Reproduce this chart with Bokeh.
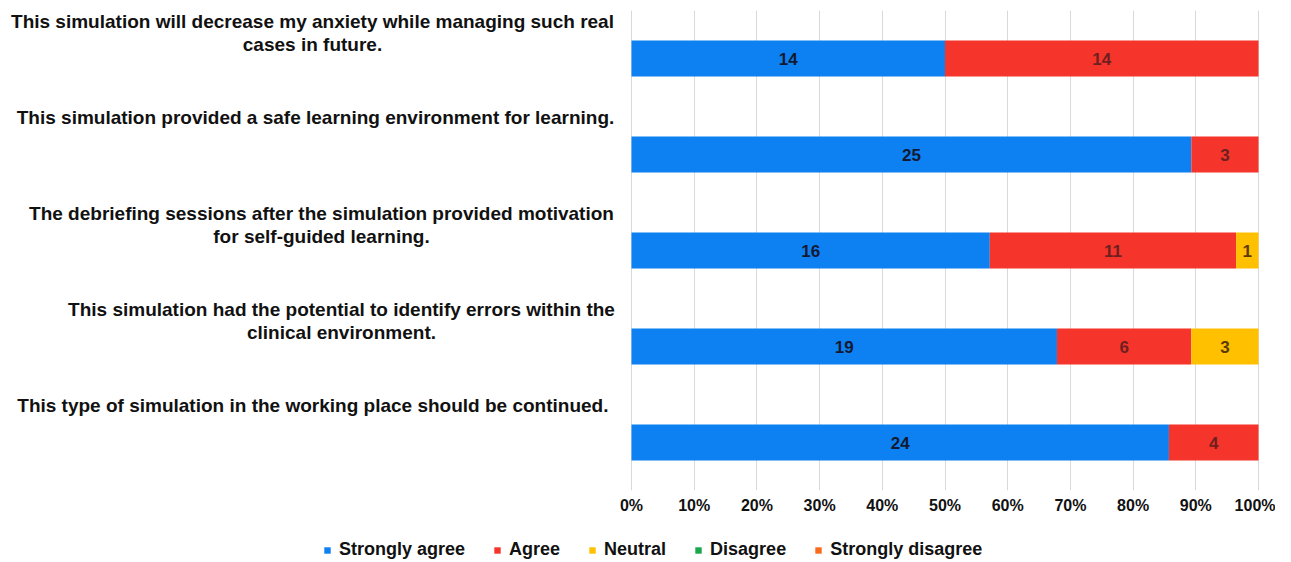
from bokeh.plotting import figure
from bokeh.layouts import column
from bokeh.models import Range1d, ColumnDataSource, Legend, LegendItem, FixedTicker
from bokeh.core.properties import value
from bokeh.embed import file_html
from bokeh.resources import INLINE

# ---------------- data ----------------
questions = [
    "This simulation will decrease my anxiety while managing such real\ncases in future.",
    "This simulation provided a safe learning environment for learning.",
    "The debriefing sessions after the simulation provided motivation\nfor self-guided learning.",
    "This simulation had the potential to identify errors within the\nclinical environment.",
    "This type of simulation in the working place  should be continued.",
]
responses = ["Strongly agree", "Agree", "Neutral", "Disagree", "Strongly disagree"]
strongly_agree = [14, 25, 16, 19, 24]
agree = [14, 3, 11, 6, 4]
neutral = [0, 0, 1, 3, 0]
disagree = [0, 0, 0, 0, 0]
strongly_disagree = [0, 0, 0, 0, 0]
tick_values = [0, 10, 20, 30, 40, 50, 60, 70, 80, 90, 100]
tick_labels = ["0%", "10%", "20%", "30%", "40%", "50%", "60%", "70%", "80%", "90%", "100%"]

# ---------------- style / layout ----------------
bar_colors = ["#0d80f2", "#f5352b", "#ffc000", "#1aa64a", "#f96a1b"]
num_colors = ["#121a33", "#6e1f1f", "#5c3b00", "#0f3a1a", "#5c2a0a"]
FONT = "Liberation Sans"

FIG_W = 1275
PAGE_FRAME_LEFT = 0
PAGE_FRAME_RIGHT = 1270
PX_ZERO = 631
PX_HUNDRED = 1258
scale = (PX_HUNDRED - PX_ZERO) / 100.0


def px_to_x(px):
    return (px - PX_ZERO) / scale


label_center_px = [312, 315, 321, 341, 315]

series = [strongly_agree, agree, neutral, disagree, strongly_disagree]
n = len(questions)
rows = [i + 0.5 for i in range(n)]
totals = [sum(s[i] for s in series) for i in range(n)]
keys = ["s%d" % k for k in range(len(series))]
data = {"y": rows}
for k, s in zip(keys, series):
    data[k] = [100.0 * s[i] / totals[i] for i in range(n)]
source = ColumnDataSource(data)

p = figure(
    width=FIG_W,
    height=520,
    x_range=Range1d(px_to_x(PAGE_FRAME_LEFT), px_to_x(PAGE_FRAME_RIGHT)),
    y_range=Range1d(start=n, end=0),
    y_axis_location=None,
    output_backend="svg",
    toolbar_location=None,
    min_border_left=0,
    min_border_right=FIG_W - PAGE_FRAME_RIGHT,
    min_border_top=10,
    min_border_bottom=30,
)
p.outline_line_color = None
p.background_fill_color = "white"
p.border_fill_color = "white"

p.hbar_stack(keys, y="y", height=0.375, color=bar_colors,
             line_color=None, source=source)

# value labels
lx, ly, lt, lc = [], [], [], []
for i in range(n):
    left = 0.0
    for k, s in enumerate(series):
        pct = data[keys[k]][i]
        if s[i] > 0:
            lx.append(left + pct / 2.0)
            ly.append(rows[i])
            lt.append(str(s[i]))
            lc.append(num_colors[k])
        left += pct
p.text(x=lx, y=ly, text=lt, text_color=lc, text_align="center",
       text_baseline="middle", text_font=value(FONT), text_font_style="bold",
       text_font_size="17px")

# category labels (left of the bars)
p.text(x=[px_to_x(c) for c in label_center_px], y=[r - 0.5 for r in rows],
       text=questions, text_align="center", text_baseline="top",
       text_font=value(FONT), text_font_style="bold", text_font_size="19px",
       text_line_height=1.1, text_color="#111111")

# axis
ax = p.xaxis[0]
ax.ticker = FixedTicker(ticks=tick_values)
ax.major_label_overrides = {v: t for v, t in zip(tick_values, tick_labels)}
ax.axis_line_color = None
ax.major_tick_line_color = None
ax.minor_tick_line_color = None
ax.major_tick_out = 0
ax.major_tick_in = 0
ax.major_label_standoff = 6
ax.major_label_text_font = FONT
ax.major_label_text_font_style = "bold"
ax.major_label_text_font_size = "16px"
ax.major_label_text_color = "#111111"

p.xgrid.ticker = FixedTicker(ticks=tick_values)
p.xgrid.grid_line_color = "#d9d9d9"
p.xgrid.grid_line_width = 1
p.ygrid.visible = False

# ---------------- legend strip ----------------
p2 = figure(
    width=FIG_W,
    height=41,
    x_range=Range1d(0, 100),
    y_range=Range1d(100, 101),   # keeps the stand-in bars out of view
    x_axis_location=None,
    y_axis_location=None,
    output_backend="svg",
    toolbar_location=None,
    min_border=0,
)
p2.outline_line_color = None
p2.xgrid.visible = False
p2.ygrid.visible = False
legend_renderers = p2.hbar_stack(keys, y="y", height=0.375, color=bar_colors,
                                 line_color=None, source=source)

legend = Legend(
    items=[LegendItem(label=r, renderers=[rr]) for r, rr in zip(responses, legend_renderers)],
    orientation="horizontal",
    location=(323, 1),
    margin=0,
    padding=3,
    spacing=28,
    glyph_width=8,
    glyph_height=8,
    label_standoff=8,
    label_height=18,
    label_text_font=FONT,
    label_text_font_style="bold",
    label_text_font_size="18px",
    label_text_color="#111111",
    border_line_color=None,
    background_fill_alpha=0,
)
p2.add_layout(legend, "center")

layout = column(p, p2, spacing=0)
open("out.html", "w").write(file_html(layout, INLINE))
